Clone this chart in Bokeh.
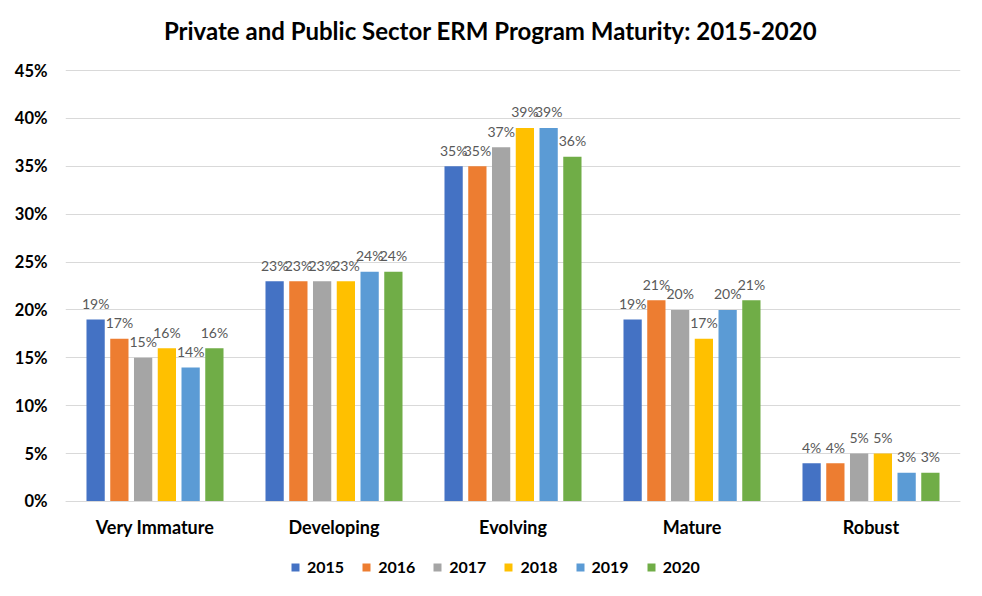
from bokeh.plotting import figure
from bokeh.models import (ColumnDataSource, FactorRange, FixedTicker, NumeralTickFormatter,
                          Legend, LegendItem, Range1d, Label)
from bokeh.transform import dodge
from bokeh.core.properties import value
from bokeh.embed import file_html
from bokeh.resources import INLINE

title_text = "Private and Public Sector ERM Program Maturity: 2015-2020"
categories = ["Very Immature", "Developing", "Evolving", "Mature", "Robust"]
years = ["2015", "2016", "2017", "2018", "2019", "2020"]
v2015 = [0.19, 0.23, 0.35, 0.19, 0.04]
v2016 = [0.17, 0.23, 0.35, 0.21, 0.04]
v2017 = [0.15, 0.23, 0.37, 0.20, 0.05]
v2018 = [0.16, 0.23, 0.39, 0.17, 0.05]
v2019 = [0.14, 0.24, 0.39, 0.20, 0.03]
v2020 = [0.16, 0.24, 0.36, 0.21, 0.03]
y_ticks = [0, 0.05, 0.10, 0.15, 0.20, 0.25, 0.30, 0.35, 0.40, 0.45]

series = [v2015, v2016, v2017, v2018, v2019, v2020]
colors = ["#4472C4", "#ED7D31", "#A5A5A5", "#FFC000", "#5B9BD5", "#70AD47"]

FONT = "Lato"

# frame spans the full height (0..580 px): 45% sits 70 px below the top, 0% 79 px above the bottom
p = figure(x_range=FactorRange(*categories), y_range=Range1d(-0.0825, 0.5231),
           width=966, height=580, output_backend="svg", toolbar_location=None,
           min_border_left=65, min_border_right=6, min_border_top=0, min_border_bottom=0)

p.title = None
p.add_layout(Label(x=425, y=550, x_units="screen", y_units="screen", text=title_text,
                   text_align="center", text_baseline="middle", text_font=FONT,
                   text_font_size="24px", text_font_style="bold", text_color="#000000"))

p.outline_line_color = None
p.background_fill_color = None
p.xgrid.grid_line_color = None
p.ygrid.grid_line_color = "#d9d9d9"
p.ygrid.grid_line_width = 1

p.yaxis.ticker = FixedTicker(ticks=y_ticks)
p.yaxis.formatter = NumeralTickFormatter(format="0%")
p.yaxis.axis_line_color = None
p.yaxis.major_tick_line_color = None
p.yaxis.minor_tick_line_color = None
p.yaxis.major_tick_out = 0
p.yaxis.major_tick_in = 0
p.yaxis.major_label_standoff = 18
p.yaxis.major_label_text_font = FONT
p.yaxis.major_label_text_font_size = "16.5px"
p.yaxis.major_label_text_font_style = "bold"
p.yaxis.major_label_text_color = "#000000"

p.xaxis.fixed_location = 0
p.xaxis.axis_line_color = "#d9d9d9"
p.xaxis.major_tick_line_color = None
p.xaxis.minor_tick_line_color = None
p.xaxis.major_tick_out = 0
p.xaxis.major_tick_in = 0
p.xaxis.major_label_standoff = 15
p.xaxis.major_label_text_font = FONT
p.xaxis.major_label_text_font_size = "18px"
p.xaxis.major_label_text_font_style = "bold"
p.xaxis.major_label_text_color = "#000000"

pitch = 0.1327
bar_w = 0.102
items = []
for i, (yr, vals, col) in enumerate(zip(years, series, colors)):
    src = ColumnDataSource(dict(cat=categories, val=vals,
                                lab=[f"{round(v * 100)}%" for v in vals]))
    off = (i - 2.5) * pitch
    r = p.vbar(x=dodge("cat", off, range=p.x_range), top="val", width=bar_w,
               source=src, fill_color=col, line_color=None)
    p.text(x=dodge("cat", off, range=p.x_range), y="val", text="lab", source=src,
           text_align="center", text_baseline="middle", y_offset=-16,
           text_font=value(FONT), text_font_size="14px", text_color="#595959")
    items.append(LegendItem(label=yr, renderers=[r]))

legend = Legend(items=items, orientation="horizontal", location=(225, 4),
                border_line_color=None, background_fill_alpha=0, padding=0, margin=0,
                spacing=17, glyph_width=10, glyph_height=10, label_standoff=7,
                label_text_font=FONT, label_text_font_size="16px",
                label_text_font_style="bold", label_text_color="#000000")
p.add_layout(legend, "center")

open("out.html", "w").write(file_html(p, INLINE))
